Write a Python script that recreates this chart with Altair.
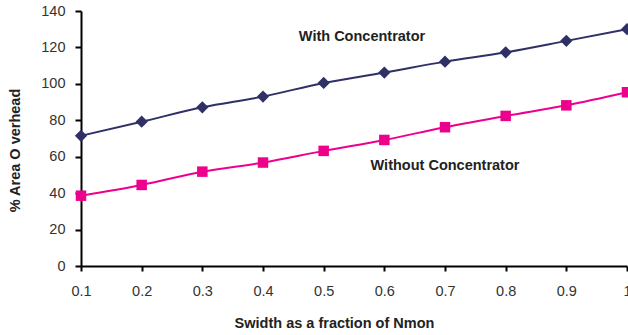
import altair as alt
import pandas as pd

swidth = [0.1, 0.2, 0.3, 0.4, 0.5, 0.6, 0.7, 0.8, 0.9, 1.0]
with_conc = [71.5, 79.2, 87.1, 93.0, 100.5, 106.2, 112.2, 117.3, 123.6, 130.0]
without_conc = [38.6, 44.5, 51.8, 56.8, 63.2, 69.2, 76.2, 82.4, 88.2, 95.4]
series_names = ["With Concentrator", "Without Concentrator"]
series_colors = ["#2E3066", "#EC008C"]
x_ticks = [0.1, 0.2, 0.3, 0.4, 0.5, 0.6, 0.7, 0.8, 0.9, 1.0]
y_ticks = [0, 20, 40, 60, 80, 100, 120, 140]

df = pd.DataFrame({
    "x": swidth * 2,
    "y": with_conc + without_conc,
    "s": [series_names[0]] * len(swidth) + [series_names[1]] * len(swidth),
})

FONT = "Liberation Sans"

xenc = alt.X("x:Q", scale=alt.Scale(domain=[0.1, 1.0], nice=False, zero=False),
             axis=alt.Axis(values=x_ticks, labelExpr="datum.value == 1 ? '1' : format(datum.value, '.1f')",
                           title="Swidth as a fraction of Nmon", grid=False,
                           domainColor="#000000", domainWidth=2, tickColor="#000000", tickWidth=2,
                           tickSize=5, labelPadding=13, labelFontSize=14.5, labelColor="#333333",
                           labelFont=FONT, titleFont=FONT, titleFontSize=14.5, titleFontWeight="bold",
                           titleColor="#222222", titleX=253, titleY=57, titleBaseline="middle",
                           labelFlush=False))
yenc = alt.Y("y:Q", scale=alt.Scale(domain=[0, 140], nice=False),
             axis=alt.Axis(values=y_ticks, title="% Area O verhead", grid=False,
                           domainColor="#000000", domainWidth=2, tickColor="#000000", tickWidth=2,
                           tickSize=6, labelPadding=10, labelFontSize=14.5, labelColor="#333333",
                           labelFont=FONT, titleFont=FONT, titleFontSize=14.5, titleFontWeight="bold",
                           titleColor="#222222", titleX=-66, titleY=139, titleAngle=-90,
                           titleBaseline="middle", titleAlign="center"))
color = alt.Color("s:N", scale=alt.Scale(domain=series_names, range=series_colors), legend=None)
shape = alt.Shape("s:N", scale=alt.Scale(domain=series_names, range=["diamond", "square"]), legend=None)
size = alt.Size("s:N", scale=alt.Scale(domain=series_names, range=[150, 110]), legend=None)

base = alt.Chart(df)
lines = base.mark_line(strokeWidth=2, interpolate="monotone").encode(x=xenc, y=yenc, color=color)
points = base.mark_point(filled=True, opacity=1).encode(x=xenc, y=yenc, color=color, shape=shape, size=size)

lbl1 = alt.Chart(pd.DataFrame({"t": [series_names[0]]})).mark_text(
    font=FONT, fontSize=14.5, fontWeight="bold", color="#222222", align="center", baseline="middle"
).encode(text="t:N", x=alt.value(281), y=alt.value(26))
lbl2 = alt.Chart(pd.DataFrame({"t": [series_names[1]]})).mark_text(
    font=FONT, fontSize=14.5, fontWeight="bold", color="#222222", align="center", baseline="middle"
).encode(text="t:N", x=alt.value(364), y=alt.value(155))

chart = alt.layer(lines, points, lbl1, lbl2).properties(
    width=546, height=255,
    autosize=alt.AutoSizeParams(type="none"),
    padding={"left": 81, "top": 11, "right": 1, "bottom": 69},
    background="#ffffff",
).configure_view(stroke=None)

chart.save("out.html", embed_options={"renderer": "svg", "actions": False})
